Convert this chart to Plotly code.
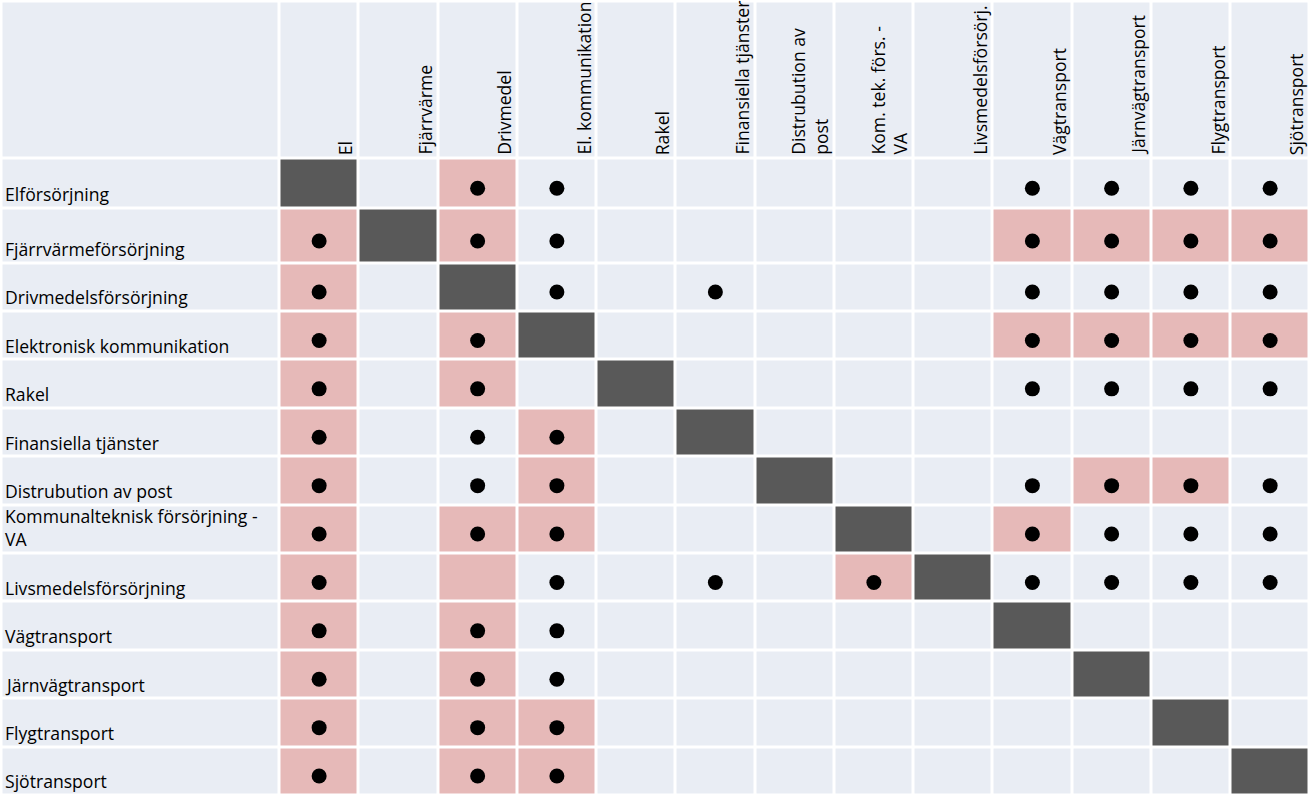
import plotly.graph_objects as go

# ---------------- data ----------------
columns = ["El", "Fjärrvärme", "Drivmedel", "El. kommunikation", "Rakel",
           "Finansiella tjänster", "Distrubution av<br>post", "Kom. tek. förs. -<br>VA",
           "Livsmedelsförsörj.", "Vägtransport", "Järnvägtransport", "Flygtransport",
           "Sjötransport"]

rows = ["Elförsörjning", "Fjärrvärmeförsörjning", "Drivmedelsförsörjning",
        "Elektronisk kommunikation", "Rakel", "Finansiella tjänster",
        "Distrubution av post", "Kommunalteknisk försörjning -<br>VA",
        "Livsmedelsförsörjning", "Vägtransport", "Järnvägtransport",
        "Flygtransport", "Sjötransport"]

# S = same sector, P = highlighted + dot, p = highlighted without dot,
# o = dot only, - = nothing
matrix = [
    "S-Po-----oooo",
    "PSPo-----PPPP",
    "P-So-o---oooo",
    "P-PS-----PPPP",
    "P-P-S----oooo",
    "P-oP-S-------",
    "P-oP--S--oPPo",
    "P-PP---S-Pooo",
    "P-po-o-PSoooo",
    "P-Po-----S---",
    "P-Po------S--",
    "P-PP-------S-",
    "P-PP--------S",
]

# ---------------- layout sizes (pixels) ----------------
W, H = 1311, 796
LEFT0 = 1.5
LABEL_W = 278.0
COL_W = 79.25
TOP0 = 1.5
HEADER_H = 157.0
ROW_H = [49.5, 55.0] + [48.4] * 11
GAP = 3

LIGHT = "#E9EDF4"
PINK = "#E6B9B8"
DARK = "#595959"
FONT = "Open Sans"
FS = 17.6

x_edges = [LEFT0, LEFT0 + LABEL_W]
for _ in columns:
    x_edges.append(x_edges[-1] + COL_W)
y_edges = [TOP0, TOP0 + HEADER_H]
for h in ROW_H:
    y_edges.append(y_edges[-1] + h)

code_val = {"S": 2, "P": 1, "p": 1, "o": 0, "-": 0}
z = [[0] * (len(columns) + 1)]
for r in matrix:
    z.append([0] + [code_val[c] for c in r])

fig = go.Figure()
fig.add_trace(go.Heatmap(
    x=x_edges, y=y_edges, z=z, zmin=0, zmax=2,
    colorscale=[[0, LIGHT], [0.33, LIGHT], [0.33, PINK], [0.67, PINK], [0.67, DARK], [1, DARK]],
    showscale=False, xgap=GAP, ygap=GAP, hoverinfo="skip"))

dx, dy = [], []
for i, r in enumerate(matrix):
    top, bot = y_edges[i + 1], y_edges[i + 2]
    for j, c in enumerate(r):
        if c in "Po":
            dx.append((x_edges[j + 1] + x_edges[j + 2]) / 2)
            dy.append(top + 0.6 * (bot - top))
fig.add_trace(go.Scatter(x=dx, y=dy, mode="markers",
                         marker=dict(size=15, color="black"), hoverinfo="skip"))

annotations = []
for i, lab in enumerate(rows):
    annotations.append(dict(
        x=x_edges[0] + 1.5, y=y_edges[i + 2] - GAP / 2, xref="x", yref="y",
        text=lab, showarrow=False, xanchor="left", yanchor="bottom", align="left",
        yshift=-1.5, font=dict(family=FONT, size=FS, color="black")))
for j, lab in enumerate(columns):
    annotations.append(dict(
        x=x_edges[j + 2] - GAP / 2, y=y_edges[1] - GAP / 2, xref="x", yref="y",
        text=lab, showarrow=False, xanchor="right", yanchor="bottom", align="left",
        textangle=-90, xshift=2, yshift=0,
        font=dict(family=FONT, size=FS, color="black")))

fig.update_layout(
    width=W, height=H, margin=dict(l=0, r=0, t=0, b=0),
    paper_bgcolor="white", plot_bgcolor="white", showlegend=False,
    xaxis=dict(range=[0, W], visible=False, fixedrange=True),
    yaxis=dict(range=[H, 0], visible=False, fixedrange=True),
    annotations=annotations)

fig.write_html("out.html", config={"displayModeBar": False},
               post_script="document.body.style.margin='0';document.body.style.overflow='hidden';")
